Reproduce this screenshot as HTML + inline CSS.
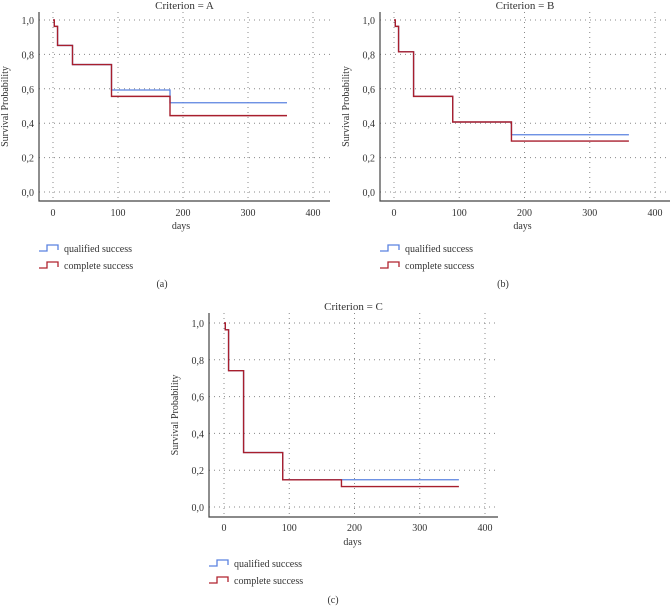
<!DOCTYPE html>
<html><head><meta charset="utf-8">
<style>
body{margin:0;background:#fff;}
svg{display:block;font-family:"Liberation Serif",serif;}
</style></head>
<body>
<svg id="chart" width="670" height="608" viewBox="0 0 670 608"></svg>
<script>
const times = [0, 2, 7, 30, 90, 180, 360];
const qualifiedA = [1.0, 0.963, 0.852, 0.741, 0.593, 0.519, 0.519];
const completeA  = [1.0, 0.963, 0.852, 0.741, 0.556, 0.444, 0.444];
const qualifiedB = [1.0, 0.963, 0.815, 0.556, 0.407, 0.333, 0.333];
const completeB  = [1.0, 0.963, 0.815, 0.556, 0.407, 0.296, 0.296];
const qualifiedC = [1.0, 0.963, 0.741, 0.296, 0.148, 0.148, 0.148];
const completeC  = [1.0, 0.963, 0.741, 0.296, 0.148, 0.111, 0.111];
const xTicks = [0, 100, 200, 300, 400];
const yTicks = [0, 0.2, 0.4, 0.6, 0.8, 1.0];
const yTickLabels = ["0,0","0,2","0,4","0,6","0,8","1,0"];
const titles = ["Criterion = A","Criterion = B","Criterion = C"];
const captions = ["(a)","(b)","(c)"];

const NS="http://www.w3.org/2000/svg";
const svg=document.getElementById('chart');
function mk(tag,attrs,parent){const e=document.createElementNS(NS,tag);for(const k in attrs)e.setAttribute(k,attrs[k]);(parent||svg).appendChild(e);return e;}

const panels=[
 {q:qualifiedA,c:completeA,axL:39,x0:53,x400:313,right:330,top:12,y1:20,y0:192,axB:201,tickY:216,daysY:229,leg1:248,leg2:265,capY:287,capX:162,title:titles[0],cap:captions[0],key:'a'},
 {q:qualifiedB,c:completeB,axL:380,x0:394,x400:655,right:670,top:12,y1:20,y0:192,axB:201,tickY:216,daysY:229,leg1:248,leg2:265,capY:287,capX:503,title:titles[1],cap:captions[1],key:'b'},
 {q:qualifiedC,c:completeC,axL:209,x0:224,x400:485,right:498,top:313,y1:323,y0:507,axB:517,tickY:531,daysY:545,leg1:563,leg2:580,capY:603,capX:333,title:titles[2],cap:captions[2],key:'c'}
];

panels.forEach(p=>{
 const g=mk('g',{});
 
 
 const X=v=>p.x0+(p.x400-p.x0)*v/400;
 const Y=v=>p.y0+(p.y1-p.y0)*v;
 yTicks.forEach((t,i)=>{
  const l=mk('line',{x1:p.axL,x2:p.right,y1:Y(t),y2:Y(t),stroke:'#888','stroke-width':1,'stroke-dasharray':'1 4'},g);
  
  
  const tx=mk('text',{x:p.axL-5,y:Y(t)+4,'text-anchor':'end','font-size':10,fill:'#333'},g);
  tx.textContent=yTickLabels[i];
  
  
 });
 xTicks.forEach(t=>{
  const l=mk('line',{x1:X(t),x2:X(t),y1:p.top,y2:p.axB,stroke:'#888','stroke-width':1,'stroke-dasharray':'1 4'},g);
  
  
  const tx=mk('text',{x:X(t),y:p.tickY,'text-anchor':'middle','font-size':10,fill:'#333'},g);
  tx.textContent=String(t);
  
  
 });
 const ax=mk('path',{d:`M${p.axL},${p.top} V${p.axB} H${p.right}`,fill:'none',stroke:'#444','stroke-width':1.2},g);
 
 
 function step(vals){let d=`M${X(times[0])},${Y(vals[0])}`;for(let i=1;i<times.length;i++){d+=` H${X(times[i])} V${Y(vals[i])}`;}return d;}
 const qb=mk('path',{d:step(p.q),fill:'none',stroke:'#5b82e0','stroke-width':1.3},g);
 
 
 const cr=mk('path',{d:step(p.c),fill:'none',stroke:'#a81f2d','stroke-width':1.4},g);
 
 
 const tt=mk('text',{x:(p.axL+p.right)/2,y:p.top-3,'text-anchor':'middle','font-size':11,fill:'#333'},g);
 tt.textContent=p.title;
 
 
 const yl=mk('text',{x:0,y:0,'text-anchor':'middle','font-size':10,fill:'#333',transform:`translate(${p.axL-31},${(p.top+p.axB)/2}) rotate(-90)`},g);
 yl.textContent='Survival Probability';
 
 
 const dl=mk('text',{x:X(200)-2,y:p.daysY,'text-anchor':'middle','font-size':10,fill:'#333'},g);
 dl.textContent='days';
 
 
 [[p.leg1,'#5b82e0','qualified success'],[p.leg2,'#b0232f','complete success']].forEach(([ly,col,lab])=>{
  const lx=p.axL;
  const s=mk('path',{d:`M${lx},${ly+3} H${lx+8} V${ly-3} H${lx+19} V${ly+2}`,fill:'none',stroke:col,'stroke-width':1.3},g);
  
  
  const t=mk('text',{x:lx+25,y:ly+4,'font-size':10,fill:'#333'},g);
  t.textContent=lab;
  
  
 });
 const cp=mk('text',{x:p.capX,y:p.capY,'text-anchor':'middle','font-size':10,fill:'#333'},g);
 cp.textContent=p.cap;
 
 
});
</script>
</body></html>
